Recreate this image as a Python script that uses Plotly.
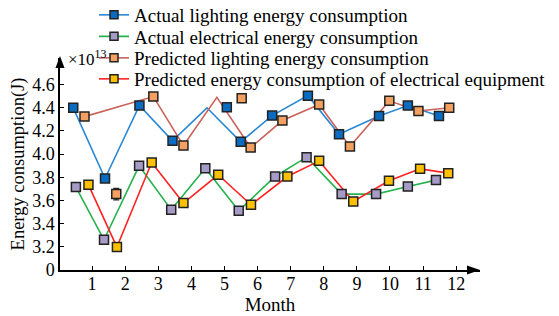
import plotly.graph_objects as go

# ---- data (months on x, energy in units of 1e13 J on y) ----
month_ticks = [1, 2, 3, 4, 5, 6, 7, 8, 9, 10, 11, 12]
y_tickvals = [3.0, 3.2, 3.4, 3.6, 3.8, 4.0, 4.2, 4.4, 4.6]
y_ticktext = ["0", "3.2", "3.4", "3.6", "3.8", "4.0", "4.2", "4.4", "4.6"]

# Actual lighting energy consumption
al_line_x = [0.43, 1.39, 2.43, 3.43, 4.47, 5.49, 6.44, 7.52, 8.46, 9.67, 10.54, 11.48]
al_line_y = [4.40, 3.79, 4.42, 4.115, 4.40, 4.106, 4.333, 4.505, 4.172, 4.33, 4.42, 4.33]
al_mark_x = [0.43, 1.39, 2.43, 3.43, 5.07, 5.49, 6.44, 7.52, 8.46, 9.67, 10.54, 11.48]
al_mark_y = [4.40, 3.79, 4.42, 4.115, 4.405, 4.106, 4.333, 4.505, 4.172, 4.33, 4.42, 4.33]

# Actual electrical energy consumption
ae_x = [0.51, 1.36, 2.42, 3.39, 4.42, 5.43, 6.53, 7.48, 8.54, 9.58, 10.54, 11.39]
ae_y = [3.716, 3.261, 3.899, 3.52, 3.878, 3.511, 3.807, 3.974, 3.655, 3.655, 3.72, 3.776]

# Predicted lighting energy consumption
pl_line_x = [0.77, 2.85, 3.76, 4.77, 5.79, 6.75, 7.86, 8.79, 9.98, 10.86, 11.79]
pl_line_y = [4.324, 4.497, 4.074, 4.49, 4.057, 4.29, 4.428, 4.066, 4.46, 4.373, 4.40]
pl_mark_x = [0.77, 2.85, 3.76, 5.52, 5.79, 6.75, 7.86, 8.79, 9.98, 10.86, 11.79]
pl_mark_y = [4.324, 4.497, 4.074, 4.483, 4.057, 4.29, 4.428, 4.066, 4.46, 4.373, 4.40]
pl_err_x = [1.73]
pl_err_y = [3.655]
pl_err = [0.05]

# Predicted energy consumption of electrical equipment
pe_x = [0.89, 1.75, 2.80, 3.76, 4.81, 5.80, 6.90, 7.86, 8.89, 9.97, 10.91, 11.76]
pe_y = [3.735, 3.198, 3.928, 3.578, 3.822, 3.563, 3.807, 3.942, 3.591, 3.77, 3.873, 3.836]

names = [
    "Actual lighting energy consumption",
    "Actual electrical energy consumption",
    "Predicted lighting energy consumption",
    "Predicted energy consumption of electrical equipment",
]

C_BLUE_L, C_BLUE_M = "#2b87d3", "#0a6cc0"
C_GREEN_L, C_PURP_M = "#26b24e", "#a69ac6"
C_ORNG_L, C_ORNG_M = "#c8625a", "#f4a060"
C_RED_L, C_YEL_M = "#ff2222", "#ffc000"
EDGE = "#222222"
MS = 9
LW = 1.6
FONT = "Liberation Serif"

W, H = 559, 316
ML, MR, MT, MB = 60, 79, 58, 46
PW, PH = W - ML - MR, H - MT - MB

fig = go.Figure()

def add_line(x, y, color):
    fig.add_trace(go.Scatter(x=x, y=y, mode="lines", line=dict(color=color, width=LW),
                             showlegend=False, hoverinfo="skip"))

def add_marks(x, y, color, **kw):
    fig.add_trace(go.Scatter(x=x, y=y, mode="markers",
                             marker=dict(symbol="square", size=MS, color=color,
                                         line=dict(color=EDGE, width=1.5)),
                             showlegend=False, **kw))

add_line(al_line_x, al_line_y, C_BLUE_L)
add_line(pl_line_x, pl_line_y, C_ORNG_L)
add_line(ae_x, ae_y, C_GREEN_L)
add_line(pe_x, pe_y, C_RED_L)

add_marks(al_mark_x, al_mark_y, C_BLUE_M)
add_marks(pl_mark_x, pl_mark_y, C_ORNG_M)
add_marks(pl_err_x, pl_err_y, C_ORNG_M,
          error_y=dict(type="data", array=pl_err, color="#222222", thickness=1.3, width=3))
add_marks(ae_x, ae_y, C_PURP_M)
add_marks(pe_x, pe_y, C_YEL_M)

# legend entries, one legend per row for precise row spacing
legend_ids = ["legend", "legend2", "legend3", "legend4"]
row_px = [15, 36.5, 58, 79]
for nm, lc, mc, lid in zip(names, [C_BLUE_L, C_GREEN_L, C_ORNG_L, C_RED_L],
                           [C_BLUE_M, C_PURP_M, C_ORNG_M, C_YEL_M], legend_ids):
    fig.add_trace(go.Scatter(x=[None], y=[None], mode="lines+markers", name=nm,
                             legend=lid,
                             line=dict(color=lc, width=LW),
                             marker=dict(symbol="square", size=8, color=mc,
                                         line=dict(color=EDGE, width=1.5))))

legend_layout = {}
for lid, py in zip(legend_ids, row_px):
    legend_layout[lid] = dict(
        x=(94 - ML) / PW, y=1 + (MT - py) / PH, xanchor="left", yanchor="middle",
        bgcolor="rgba(0,0,0,0)", font=dict(family=FONT, size=19, color="black"),
        itemwidth=30, borderwidth=0,
    )

fig.update_layout(
    width=W, height=H,
    margin=dict(l=ML, r=MR, t=MT, b=MB, autoexpand=False),
    plot_bgcolor="white", paper_bgcolor="white",
    font=dict(family=FONT, size=18, color="black"),
    showlegend=True,
    xaxis=dict(range=[0.03, 12.72], tickvals=month_ticks,
               ticktext=[str(m) for m in month_ticks],
               ticks="inside", ticklen=4, tickwidth=1.2, tickcolor="black",
               showline=True, linecolor="black", linewidth=1.5,
               showgrid=False, zeroline=False, automargin=False,
               ticklabelstandoff=-3,
               title=dict(text="Month", standoff=0, font=dict(size=19)),
               tickfont=dict(size=18)),
    yaxis=dict(range=[3.0, 4.83], tickvals=y_tickvals, ticktext=y_ticktext,
               ticks="inside", ticklen=4, tickwidth=1.2, tickcolor="black",
               showline=True, linecolor="black", linewidth=1.5,
               showgrid=False, zeroline=False, automargin=False,
               ticklabelstandoff=0,
               title=dict(text="Energy consumption(J)", standoff=3, font=dict(size=18.5)),
               tickfont=dict(size=18)),
    annotations=[
        dict(xref="paper", yref="paper", x=(66 - ML) / PW, y=1.0, xanchor="left",
             yanchor="middle", text="×10<sup>13</sup>", showarrow=False,
             font=dict(size=17)),
    ],
    shapes=[
        # y-axis arrowhead
        dict(type="path", xref="paper", yref="paper", layer="above",
             path=f"M {-4.5/PW} {1 - 10/PH} L {4.5/PW} {1 - 10/PH} L 0 {1 + 2/PH} Z",
             fillcolor="black", line=dict(width=0)),
        # x-axis arrowhead
        dict(type="path", xref="paper", yref="paper", layer="above",
             path=f"M {1 - 13/PW} {4.5/PH} L {1 - 13/PW} {-4.5/PH} L 1 0 Z",
             fillcolor="black", line=dict(width=0)),
    ],
)
fig.update_layout(**{k: v for k, v in legend_layout.items()})

fig.write_html("out.html", config={"displayModeBar": False},
               post_script="document.body.style.margin='0px';")
